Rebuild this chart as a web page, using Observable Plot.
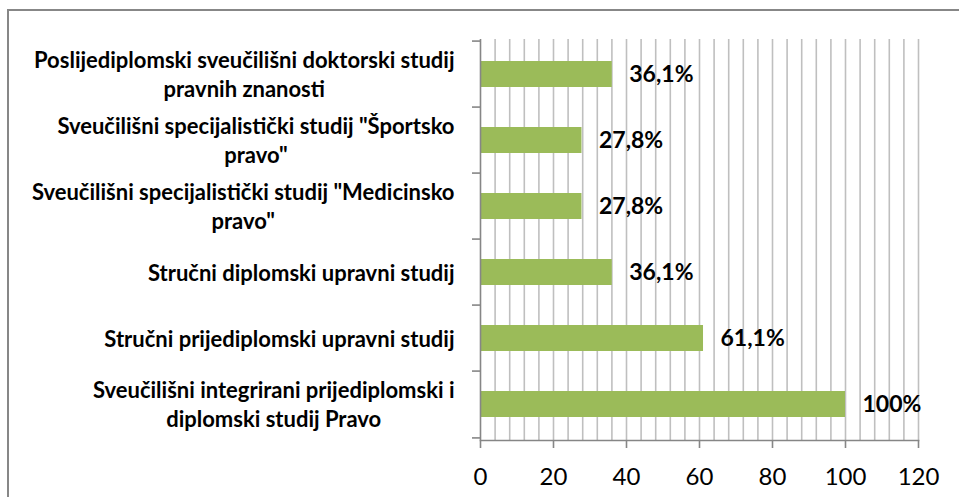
<!DOCTYPE html>
<html><head><meta charset="utf-8">
<script src="https://cdn.jsdelivr.net/npm/d3@7"></script>
<script src="https://cdn.jsdelivr.net/npm/@observablehq/plot@0.6"></script>
<style>
html,body{margin:0;padding:0;background:#fff;overflow:hidden}
#wrap{position:relative;width:959px;height:497px;overflow:hidden}
#wrap svg{position:absolute;left:0;top:0;display:block}
#border{position:absolute;left:7px;top:9px;width:2000px;height:2000px;border:2px solid #878787;box-sizing:border-box;pointer-events:none}
</style></head><body><div id="wrap"><div id="border"></div></div>
<script>
const categories = [
  "Poslijediplomski sveučilišni doktorski studij\npravnih znanosti",
  "Sveučilišni specijalistički studij \"Športsko\npravo\"",
  "Sveučilišni specijalistički studij \"Medicinsko\npravo\"",
  "Stručni diplomski upravni studij",
  "Stručni prijediplomski upravni studij",
  "Sveučilišni integrirani prijediplomski i\ndiplomski studij Pravo"
];
const values = [36.1, 27.8, 27.8, 36.1, 61.1, 100];
const valueLabels = ["36,1%", "27,8%", "27,8%", "36,1%", "61,1%", "100%"];
const xTicks = [0, 20, 40, 60, 80, 100, 120];
const gridTicks = [4, 8, 12, 16, 20, 24, 28, 32, 36, 40, 44, 48, 52, 56, 60, 64, 68, 72, 76, 80, 84, 88, 92, 96, 100, 104, 108, 112, 116, 120];

const data = categories.map((c, i) => ({category: c, value: values[i], label: valueLabels[i]}));
const W = 959, H = 497, mt = 39, mb = 57, ml = 480, mr = 41;
const step = (H - mt - mb) / categories.length;
const axisColor = "#868686";

const chart = Plot.plot({
  width: W, height: H,
  marginTop: mt, marginBottom: mb, marginLeft: ml, marginRight: mr,
  style: {fontFamily: "Lato, sans-serif", color: "#000", background: "transparent", overflow: "visible"},
  x: {domain: [0, 120], label: null},
  y: {domain: categories, paddingInner: 0.6, paddingOuter: 0.3, label: null},
  marks: [
    Plot.gridX({ticks: gridTicks, stroke: "#bfbfbf", strokeOpacity: 1, strokeWidth: 1.6}),
    Plot.barX(data, {x: "value", y: "category", fill: "#9bbb59"}),
    Plot.ruleX([0], {stroke: axisColor, strokeWidth: 1.6}),
    Plot.frame({anchor: "bottom", stroke: axisColor, strokeWidth: 1.6}),
    Plot.axisX({ticks: xTicks, tickSize: 8, text: null, stroke: axisColor, strokeWidth: 1.6}),
    Plot.axisX({ticks: xTicks, tickSize: 0, tickPadding: 27, fontSize: 24, tickFormat: d => String(d)}),
    Plot.axisY({tickSize: 8, text: null, dy: -step / 2, stroke: axisColor, strokeWidth: 1.6}),
    Plot.axisY({ticks: [categories[categories.length - 1]], tickSize: 8, text: null, dy: step / 2, stroke: axisColor, strokeWidth: 1.6}),
    Plot.axisY({tickSize: 0, tickPadding: 26, fontSize: 22, fontWeight: "bold", lineHeight: 1.3, dy: -1}),
    Plot.text(data, {x: "value", y: "category", text: "label", dx: 17, textAnchor: "start", fontSize: 23, fontWeight: "bold", fill: "#000"})
  ]
});
const wrap = document.getElementById("wrap");
wrap.insertBefore(chart, wrap.firstChild);
chart.querySelectorAll('g[aria-label="y-axis tick label"] text').forEach(t => {
  const spans = [...t.querySelectorAll("tspan")];
  if (spans.length < 2) return;
  const ws = spans.map(s => s.getComputedTextLength());
  const m = Math.max(...ws);
  spans.forEach((s, i) => s.setAttribute("x", -(m - ws[i]) / 2));
});
</script></body></html>
